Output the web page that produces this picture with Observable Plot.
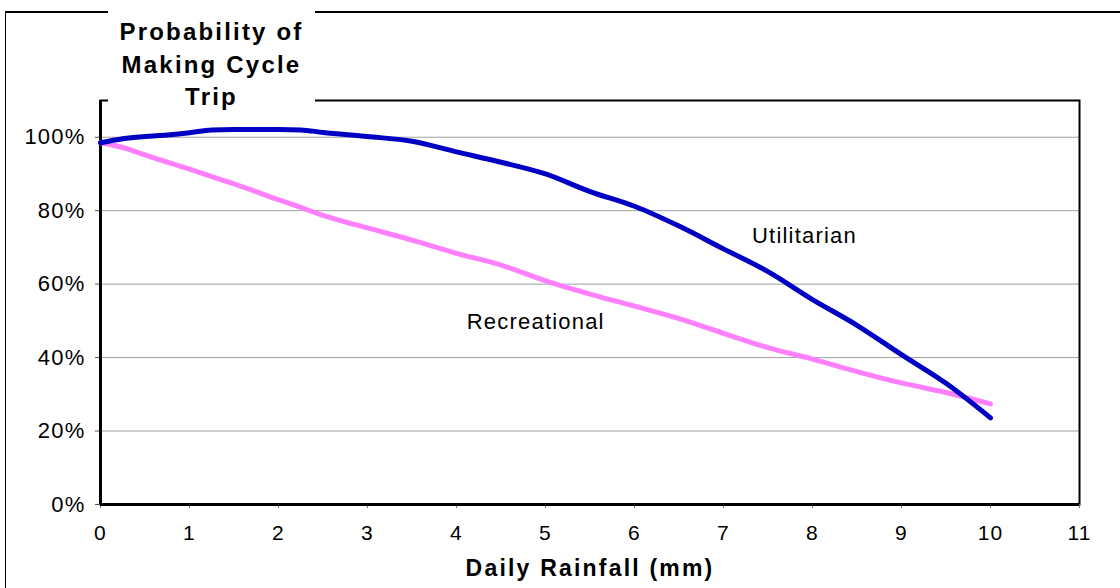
<!DOCTYPE html>
<html>
<head>
<meta charset="utf-8">
<script src="https://cdn.jsdelivr.net/npm/d3@7"></script>
<script src="https://cdn.jsdelivr.net/npm/@observablehq/plot@0.6"></script>
<style>
  body { margin: 0; background: #fff; }
  #chart { position: relative; width: 1120px; height: 588px; overflow: hidden;
           font-family: "Liberation Sans", Arial, sans-serif; }
  #chart svg { position: absolute; left: 0; top: 0; }
  #chart svg text { letter-spacing: 1.2px; }
  #outline { position: absolute; left: 5px; top: 11px; width: 1300px; height: 700px;
             border-left: 1px solid #000; border-top: 2px solid #000; }
  #title { position: absolute; left: 108px; top: 6px; width: 207px; padding-top: 10px;
           background: #fff; text-align: center; font-weight: bold; font-size: 24px;
           line-height: 32.5px; letter-spacing: 2.2px; color: #000; }
</style>
</head>
<body>
<div id="chart"></div>
<script>
// Daily rainfall (mm) and the probability of making a cycle trip
const rainfall = [0, 0.25, 0.5, 0.75, 1, 1.25, 1.5, 2, 2.25, 2.5, 3, 3.5, 4, 4.5, 5, 5.5, 6, 6.5, 7, 7.5, 8, 8.5, 9, 9.5, 10];
const utilitarian = [0.985, 0.996, 1.002, 1.006, 1.012, 1.020, 1.021, 1.021, 1.020, 1.013, 1.002, 0.989, 0.960, 0.932, 0.900, 0.852, 0.812, 0.758, 0.696, 0.634, 0.558, 0.488, 0.408, 0.330, 0.236];
const recreational = [0.985, 0.972, 0.952, 0.932, 0.913, 0.893, 0.873, 0.830, 0.809, 0.787, 0.753, 0.720, 0.684, 0.652, 0.609, 0.573, 0.540, 0.506, 0.466, 0.427, 0.396, 0.362, 0.331, 0.305, 0.274];

const seriesNames = ["Utilitarian", "Recreational"];
const yTicks = [0, 0.2, 0.4, 0.6, 0.8, 1];
const xTicks = [0, 1, 2, 3, 4, 5, 6, 7, 8, 9, 10, 11];
const gridTicks = [0.2, 0.4, 0.6, 0.8, 1];

const titleText = "Probability of\nMaking Cycle\nTrip";
const xTitle = "Daily Rainfall (mm)";

const blue = "#0000c4";
const pink = "#ff80ff";

const plot = Plot.plot({
  width: 1120,
  height: 588,
  marginLeft: 100,
  marginRight: 41,
  marginTop: 100,
  marginBottom: 84,
  style: { fontFamily: "'Liberation Sans', Arial, sans-serif", background: "transparent", color: "#000" },
  x: { domain: [0, 11] },
  y: { domain: [0, 1.1] },
  marks: [
    Plot.gridY(gridTicks, { stroke: "#a0a0a0", strokeOpacity: 1, strokeWidth: 1 }),
    Plot.frame({ stroke: "#000", strokeWidth: 2 }),
    Plot.axisY(yTicks, {
      tickFormat: d3.format(".0%"), tickSize: 5, tickPadding: 10,
      fontSize: 22, stroke: "#555", fill: "#000", label: null
    }),
    Plot.axisX(xTicks, {
      tickSize: 4, tickPadding: 17, fontSize: 21, stroke: "#777", fill: "#000", label: null
    }),
    Plot.ruleX([0], { stroke: "#000", strokeWidth: 3 }),
    Plot.ruleY([0], { stroke: "#000", strokeWidth: 3 }),
    Plot.lineY(recreational, { x: rainfall, stroke: pink, strokeWidth: 5, curve: "monotone-x" }),
    Plot.lineY(utilitarian, { x: rainfall, stroke: blue, strokeWidth: 5, curve: "monotone-x" }),
    Plot.text(seriesNames, {
      x: [7.91, 4.89], y: [0.731, 0.496], text: d => d,
      fontSize: 22, fill: "#000"
    }),
    Plot.text([xTitle], {
      frameAnchor: "bottom", dy: 71, lineAnchor: "bottom",
      fontSize: 23, fontWeight: "bold", fill: "#000"
    })
  ]
});

const chart = document.getElementById("chart");
chart.appendChild(plot);
d3.select(plot).selectAll("text").filter(function () { return this.textContent === xTitle; })
  .style("letter-spacing", "2.2px");

const outline = document.createElement("div");
outline.id = "outline";
chart.appendChild(outline);

const title = document.createElement("div");
title.id = "title";
title.innerHTML = titleText.split("\n").join("<br>");
chart.appendChild(title);
</script>
</body>
</html>
